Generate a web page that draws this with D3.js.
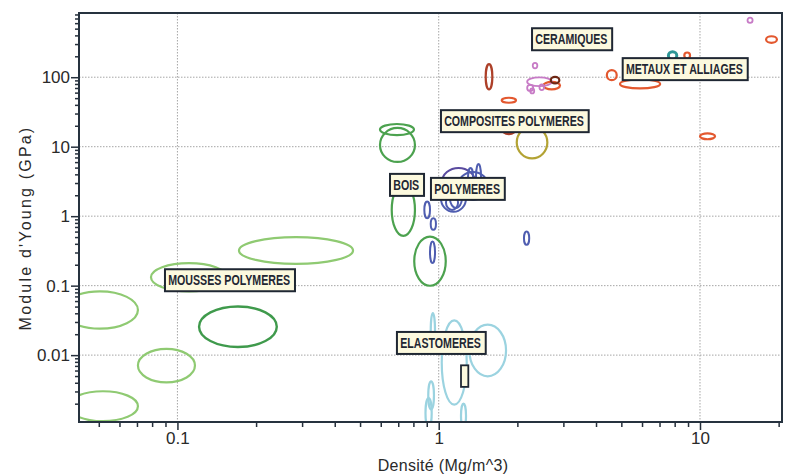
<!DOCTYPE html>
<html>
<head>
<meta charset="utf-8">
<script src="https://cdn.jsdelivr.net/npm/d3@7"></script>
<style>
  html, body { margin: 0; padding: 0; background: #ffffff; }
  svg { display: block; }
</style>
</head>
<body>
<svg id="chart" width="788" height="475"></svg>
<script>
// Young's modulus vs density, log-log, one envelope per material.
// Every envelope: [density min, density max, modulus min, modulus max] in Mg/m^3 and GPa.

const moussesSouples = [
  [0.0361, 0.0706, 0.024, 0.0826],
  [0.0381, 0.0706, 0.00112, 0.00302],
  [0.0706, 0.1167, 0.00406, 0.01228],
  [0.0792, 0.1547, 0.0826, 0.211],
  [0.172, 0.470, 0.206, 0.499]
];
const moussesRigides = [
  [0.121, 0.240, 0.0131, 0.0502]
];
const bois = [
  [0.661, 0.811, 0.521, 2.91],
  [0.806, 1.064, 0.0997, 0.509],
  [0.596, 0.811, 6.03, 18.6],
  [0.596, 0.804, 14.7, 21.2]
];
const polymeres = [
  [0.881, 0.926, 0.936, 1.62],
  [0.932, 0.976, 0.636, 0.936],
  [0.926, 0.968, 0.211, 0.432],
  [2.12, 2.22, 0.387, 0.601],
  [1.020, 1.272, 1.153, 2.82],
  [1.389, 1.452, 2.39, 5.64],
  [1.295, 1.353, 2.82, 4.94],
  [1.186, 1.544, 1.715, 4.33],
  [1.066, 1.186, 1.23, 2.02],
  [1.104, 1.227, 1.316, 2.55]
];
const polymeresViolets = [
  [1.030, 1.377, 1.957, 4.94]
];
const elastomeres = [
  [1.027, 1.280, 0.00194, 0.0316],
  [1.31, 1.81, 0.00496, 0.0274],
  [0.932, 0.968, 0.012, 0.0404],
  [0.912, 0.959, 0.00165, 0.00421],
  [0.89, 0.94, 0.0009, 0.0024],
  [1.217, 1.272, 0.0009, 0.0020]
];
const composites = [
  [1.989, 2.605, 6.81, 19.4]
];
const rougesFonces = [
  [1.74, 1.98, 15.2, 22.6],
  [1.513, 1.604, 66.8, 154]
];
const orangesRouges = [
  [1.742, 1.976, 42.9, 50.6],
  [2.515, 2.913, 66.8, 85.9],
  [4.40, 4.80, 90.8, 126.5],
  [4.94, 7.04, 69, 93],
  [8.71, 9.16, 186, 227],
  [10.0, 11.42, 12.8, 15.6],
  [17.9, 19.7, 312, 389]
];
const bruns = [
  [2.685, 2.895, 81.5, 101]
];
const roses = [
  [2.29, 2.385, 134, 161],
  [2.18, 2.71, 74.5, 99.4],
  [2.18, 2.30, 63.6, 77.5],
  [2.24, 2.32, 58.5, 69.0],
  [2.43, 2.53, 65.3, 78.8],
  [15.2, 15.9, 605, 723]
];
const sarcelles = [
  [7.57, 8.15, 180, 232]
];
// small empty box among the elastomers
const boiteVide = [1.217, 1.298, 0.00349, 0.00713];

// family names and their anchors (left edge, vertical centre of each tag)
const labelTexts   = ["CERAMIQUES", "METAUX ET ALLIAGES", "COMPOSITES POLYMERES", "BOIS", "POLYMERES", "MOUSSES POLYMERES", "ELASTOMERES"];
const labelDensity = [2.276, 5.06, 1.020, 0.651, 0.934, 0.0896, 0.692];
const labelModulus = [352, 130.7, 23.3, 2.82, 2.47, 0.1196, 0.01497];

// axis ticks
const xMajor = [0.1, 1, 10];
const xMajorLabels = ["0.1", "1", "10"];
const yMajor = [0.01, 0.1, 1, 10, 100];
const yMajorLabels = ["0.01", "0.1", "1", "10", "100"];
const xTitle = "Densité (Mg/m^3)";
const yTitle = "Module d'Young (GPa)";

// ---------------------------------------------------------------
const W = 788, H = 475;
const margin = { left: 79, right: 6, top: 13, bottom: 53 };
const iw = W - margin.left - margin.right;
const ih = H - margin.top - margin.bottom;

const x = d3.scaleLog().domain([0.042, 20.6]).range([0, iw]);
const y = d3.scaleLog().domain([0.00109, 840]).range([ih, 0]);

const svg = d3.select("#chart");
const g = svg.append("g").attr("transform", `translate(${margin.left},${margin.top})`);

const tickFont = "'Liberation Sans', Arial, sans-serif";
const ink = "#26303c";

// minor tick values: 2..9 within every decade of the domain
function minorTicks(scale) {
  const [a, b] = scale.domain();
  const out = [];
  for (let e = Math.floor(Math.log10(a)); e <= Math.ceil(Math.log10(b)); e++) {
    for (let m = 2; m <= 9; m++) {
      const v = m * Math.pow(10, e);
      if (v >= a && v <= b) out.push(v);
    }
  }
  return out;
}

// dotted grid at the decades
const grid = g.append("g").attr("stroke", "#a6a6a6").attr("stroke-width", 1)
  .attr("stroke-dasharray", "1.5,1.5");
grid.selectAll("line.gx").data(xMajor).join("line")
  .attr("x1", d => x(d)).attr("x2", d => x(d)).attr("y1", 0).attr("y2", ih);
grid.selectAll("line.gy").data(yMajor).join("line")
  .attr("y1", d => y(d)).attr("y2", d => y(d)).attr("x1", 0).attr("x2", iw);

// axes
const xAxisMinor = d3.axisBottom(x).tickValues(minorTicks(x)).tickSize(5).tickFormat("");
const xAxisMajor = d3.axisBottom(x).tickValues(xMajor).tickSize(8).tickPadding(2)
  .tickFormat((d, i) => xMajorLabels[i]);
const yAxisMinor = d3.axisLeft(y).tickValues(minorTicks(y)).tickSize(4).tickFormat("");
const yAxisMajor = d3.axisLeft(y).tickValues(yMajor).tickSize(8).tickPadding(1)
  .tickFormat((d, i) => yMajorLabels[i]);

function styleAxis(sel) {
  sel.select(".domain").remove();
  sel.selectAll(".tick line").attr("stroke", ink).attr("stroke-width", 1.5);
  sel.selectAll(".tick text").attr("fill", "#2a2a2a")
    .style("font-family", tickFont).style("font-size", "17px");
}
g.append("g").attr("transform", `translate(0,${ih})`).call(xAxisMinor).call(styleAxis);
g.append("g").attr("transform", `translate(0,${ih})`).call(xAxisMajor).call(styleAxis);
g.append("g").call(yAxisMinor).call(styleAxis);
g.append("g").call(yAxisMajor).call(styleAxis);

// material envelopes, clipped to the plotting area
svg.append("defs").append("clipPath").attr("id", "plotClip")
  .append("rect").attr("width", iw).attr("height", ih);
const marks = g.append("g").attr("clip-path", "url(#plotClip)");

const families = [
  { rows: moussesSouples,   color: "#8fca72", width: 2.2 },
  { rows: moussesRigides,   color: "#3f9a4c", width: 2.4 },
  { rows: bois,             color: "#4ca24f", width: 2.2 },
  { rows: elastomeres,      color: "#9bd3e0", width: 2.2 },
  { rows: polymeresViolets, color: "#5a4b9f", width: 2 },
  { rows: polymeres,        color: "#4f5db0", width: 2 },
  { rows: composites,       color: "#b3a334", width: 2.2 },
  { rows: rougesFonces,     color: "#ad4029", width: 2.2 },
  { rows: orangesRouges,    color: "#e3582f", width: 2.2 },
  { rows: roses,            color: "#c77bc6", width: 1.8 },
  { rows: bruns,            color: "#6e2714", width: 2.2 },
  { rows: sarcelles,        color: "#2d9596", width: 3 }
];

families.forEach(f => {
  marks.append("g").selectAll("ellipse").data(f.rows).join("ellipse")
    .attr("cx", d => (x(d[0]) + x(d[1])) / 2)
    .attr("cy", d => (y(d[2]) + y(d[3])) / 2)
    .attr("rx", d => (x(d[1]) - x(d[0])) / 2)
    .attr("ry", d => (y(d[2]) - y(d[3])) / 2)
    .attr("fill", "none")
    .attr("stroke", f.color)
    .attr("stroke-width", f.width);
});

const tagFill = "#fcf9de";
marks.append("rect")
  .attr("x", x(boiteVide[0])).attr("y", y(boiteVide[3]))
  .attr("width", x(boiteVide[1]) - x(boiteVide[0]))
  .attr("height", y(boiteVide[2]) - y(boiteVide[3]))
  .attr("fill", tagFill).attr("stroke", "#1f2733").attr("stroke-width", 1.8);

// frame
g.append("rect").attr("width", iw).attr("height", ih)
  .attr("fill", "none").attr("stroke", "#26323f").attr("stroke-width", 2);

// family tags, set in a narrow face (Arial compressed horizontally)
const tags = g.append("g");
const narrow = 0.76;
labelTexts.forEach((t, i) => {
  const lx = x(labelDensity[i]);
  const ly = y(labelModulus[i]);
  const tg = tags.append("g");
  const box = tg.append("rect");
  const txt = tg.append("text")
    .attr("x", lx + 3.2).attr("y", ly + 5)
    .attr("fill", "#1f2733")
    .style("font-family", tickFont)
    .style("font-weight", "bold")
    .style("font-size", "14px")
    .text(t);
  const natural = txt.node().getComputedTextLength();
  const w = natural * narrow;
  txt.attr("textLength", w).attr("lengthAdjust", "spacingAndGlyphs");
  box.attr("x", lx).attr("y", ly - 11)
    .attr("width", w + 8).attr("height", 22)
    .attr("fill", tagFill).attr("stroke", "#1f2733").attr("stroke-width", 2);
});

// axis titles
svg.append("text")
  .attr("x", 443).attr("y", 471)
  .attr("text-anchor", "middle")
  .attr("fill", "#2a2a2a")
  .style("font-family", tickFont).style("font-size", "16px")
  .style("letter-spacing", "0.3px")
  .text(xTitle);

svg.append("text")
  .attr("transform", "translate(31,228) rotate(-90)")
  .attr("text-anchor", "middle")
  .attr("fill", "#2a2a2a")
  .style("font-family", tickFont).style("font-size", "16px")
  .style("letter-spacing", "2.2px")
  .text(yTitle);
</script>
</body>
</html>
